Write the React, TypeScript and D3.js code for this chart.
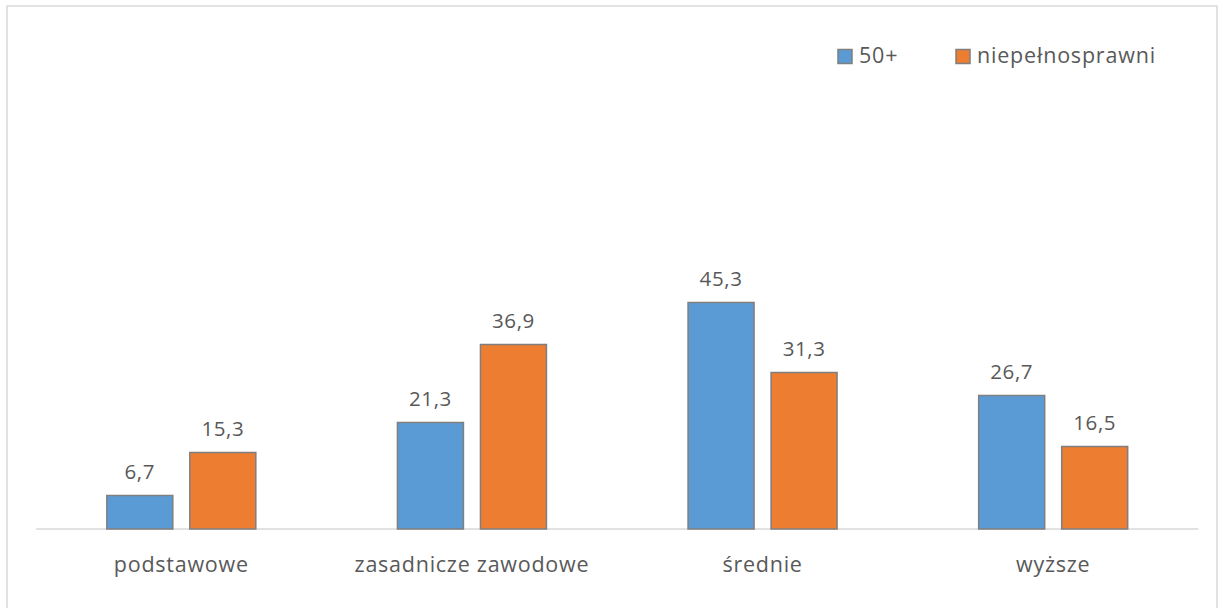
import React from "react";
import * as d3 from "d3";

// Education level of the two groups (%)
const categories = ["podstawowe", "zasadnicze zawodowe", "średnie", "wyższe"];
const seriesNames = ["50+", "niepełnosprawni"];
const values50 = [6.7, 21.3, 45.3, 26.7];
const valuesNiepelno = [15.3, 36.9, 31.3, 16.5];
const seriesValues = [values50, valuesNiepelno];
const seriesColors = ["#5B9BD5", "#ED7D31"];

const W = 1220;
const H = 608;
const FONT = "'Open Sans', 'Noto Sans', sans-serif";
const TEXT = "#595959";

export default function App() {
  const x = d3.scaleBand<string>().domain(categories).range([36, 1198.5]).padding(0);
  const groupW = 149;
  const inner = d3
    .scaleBand<string>()
    .domain(seriesNames)
    .range([0, groupW])
    .paddingInner(0.205)
    .paddingOuter(0);
  const y = d3.scaleLinear().domain([0, 50]).range([529, 279]);
  const fmt = (v: number) => v.toFixed(1).replace(".", ",");

  return (
    <svg
      width={W}
      height={H}
      style={{ position: "absolute", left: 0, top: 0, display: "block", background: "#fff" }}
      fontFamily={FONT}
    >
      <rect x={7} y={6} width={1210} height={620} fill="#fff" stroke="#D9D9D9" strokeWidth={1.5} />

      {/* baseline */}
      <line x1={x.range()[0]} x2={x.range()[1]} y1={y(0)} y2={y(0)} stroke="#D9D9D9" strokeWidth={1.5} />

      {categories.map((c, ci) => {
        const cx = (x(c) ?? 0) + x.bandwidth() / 2;
        const gx = cx - groupW / 2;
        return (
          <g key={c}>
            {seriesNames.map((s, si) => {
              const v = seriesValues[si][ci];
              const bx = gx + (inner(s) ?? 0);
              const bw = inner.bandwidth();
              return (
                <g key={s}>
                  <rect
                    x={bx}
                    y={y(v)}
                    width={bw}
                    height={y(0) - y(v)}
                    fill={seriesColors[si]}
                    stroke="#7F7F7F"
                    strokeWidth={1.5}
                  />
                  <text
                    x={bx + bw / 2}
                    y={y(v) - 17}
                    textAnchor="middle"
                    fontSize={20.5}
                    letterSpacing={0.6}
                    fill={TEXT}
                  >
                    {fmt(v)}
                  </text>
                </g>
              );
            })}
            <text x={cx} y={572} textAnchor="middle" fontSize={21.5} letterSpacing={0.75} fill={TEXT}>
              {c}
            </text>
          </g>
        );
      })}

      {/* legend */}
      {seriesNames.map((s, si) => {
        const lx = [838, 956][si];
        return (
          <g key={s}>
            <rect x={lx} y={49.5} width={14} height={14} fill={seriesColors[si]} stroke="#7F7F7F" strokeWidth={1.5} />
            <text x={lx + 21} y={63} fontSize={21.5} letterSpacing={0.8} fill={TEXT}>
              {s}
            </text>
          </g>
        );
      })}
    </svg>
  );
}
